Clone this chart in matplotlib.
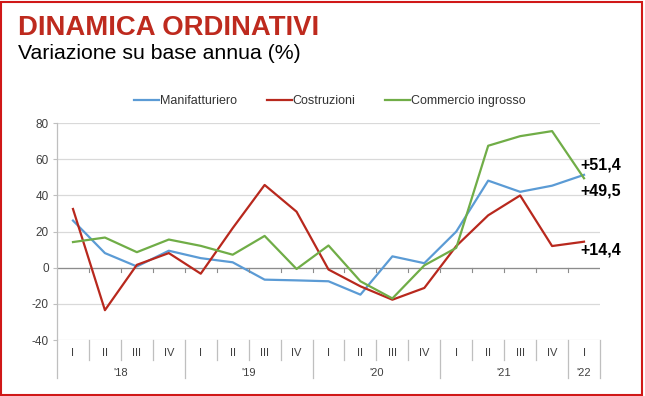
import matplotlib.pyplot as plt
from matplotlib.patches import Rectangle
import matplotlib.transforms as mtrans

plt.rcParams['font.family'] = ['Liberation Sans', 'DejaVu Sans']

quarters = ["I", "II", "III", "IV"] * 4 + ["I"]
years = ["'18", "'19", "'20", "'21", "'22"]
year_counts = [4, 4, 4, 4, 1]

manifatturiero = [26.1, 8.1, 0.7, 9.4, 5.3, 3.0, -6.6, -7.0, -7.5, -14.9, 6.3, 2.5,
                  20.0, 48.2, 42.0, 45.4, 51.4]
costruzioni = [32.5, -23.5, 1.6, 8.1, -3.3, 21.9, 45.8, 31.0, -1.0, -10.3, -17.7, -11.2,
               12.0, 29.0, 40.0, 12.0, 14.4]
commercio = [14.2, 16.7, 8.6, 15.6, 12.1, 7.2, 17.6, -0.7, 12.3, -7.5, -17.0, 1.3,
             11.0, 67.5, 72.8, 75.6, 49.5]

series = [("Manifatturiero", manifatturiero, "#5B9BD5"),
          ("Costruzioni", costruzioni, "#B8281D"),
          ("Commercio ingrosso", commercio, "#70AD47")]
end_labels = {"Manifatturiero": ("+51,4", 7), "Commercio ingrosso": ("+49,5", -9.5),
              "Costruzioni": ("+14,4", -6)}

fig = plt.figure(figsize=(6.45, 3.96), dpi=100)
ax = fig.add_axes([0.0884, 0.1414, 0.8418, 0.5476])

x = list(range(len(quarters)))
for name, vals, col in series:
    ax.plot(x, vals, color=col, lw=1.6, label=name)
    txt, dy = end_labels[name]
    ax.annotate(txt, (x[-1], vals[-1]), xytext=(-2.5, dy), textcoords="offset points",
                ha="left", va="center", fontsize=11.5, fontweight="bold", color="black")

ax.set_xlim(-0.5, len(quarters) - 0.5)
ax.set_ylim(-40, 80)
ax.set_yticks(range(-40, 81, 20))
ax.set_yticklabels([str(v) for v in range(-40, 81, 20)])
ax.tick_params(axis="y", labelsize=8.5, colors="#404040", length=3, color="#bfbfbf", pad=3)
ax.set_xticks([])
for v in range(-20, 81, 20):
    ax.axhline(v, color="#d9d9d9", lw=0.9, zorder=0)
ax.axhline(-40, color="#d9d9d9", lw=0.9, zorder=0)
ax.axhline(0, color="#8c8c8c", lw=0.9, zorder=1)
for s in ["top", "right", "bottom", "left"]:
    ax.spines[s].set_visible(False)

# category axis: zero-line ticks and two rows of labels with separators
tr = mtrans.blended_transform_factory(ax.transData, ax.transAxes)
zero_ax = 40 / 120
for b in [i + 0.5 for i in range(len(quarters) - 1)]:
    ax.plot([b, b], [zero_ax, zero_ax - 0.018], transform=tr, color="#8c8c8c", lw=0.8, clip_on=False)

year_edges = [-0.5]
for c in year_counts:
    year_edges.append(year_edges[-1] + c)
for i, q in enumerate(quarters):
    ax.text(i, -0.06, q, transform=tr, ha="center", va="center", fontsize=8, color="#404040")
for b in range(len(quarters) + 1):
    edge = b - 0.5
    bottom = -0.175 if edge in year_edges else -0.093
    ax.plot([edge, edge], [0, bottom], transform=tr, color="#bfbfbf", lw=0.9, clip_on=False)
ax.plot([-0.5, -0.5], [0, 1], transform=tr, color="#bfbfbf", lw=0.9, clip_on=False)
for k, y in enumerate(years):
    mid = (year_edges[k] + year_edges[k + 1]) / 2
    ax.text(mid, -0.152, y, transform=tr, ha="center", va="center", fontsize=8, color="#404040")

ax.legend(loc="center", bbox_to_anchor=(0.511, 0.745), bbox_transform=fig.transFigure,
          ncol=3, frameon=False, fontsize=9, handlelength=2.0, handletextpad=0.05,
          columnspacing=2.4, labelcolor="#333333")

fig.text(0.028, 0.93, "DINAMICA ORDINATIVI", fontsize=19.8, fontweight="bold",
         color="#BE2A1E", ha="left", va="center")
fig.text(0.028, 0.866, "Variazione su base annua (%)", fontsize=15.3, color="black",
         ha="left", va="center")

fig.patches.append(Rectangle((0.002, 0.002), 0.994, 0.994, transform=fig.transFigure,
                             fill=False, edgecolor="#D01818", lw=1.5))

fig.savefig("out.png", dpi=100)
